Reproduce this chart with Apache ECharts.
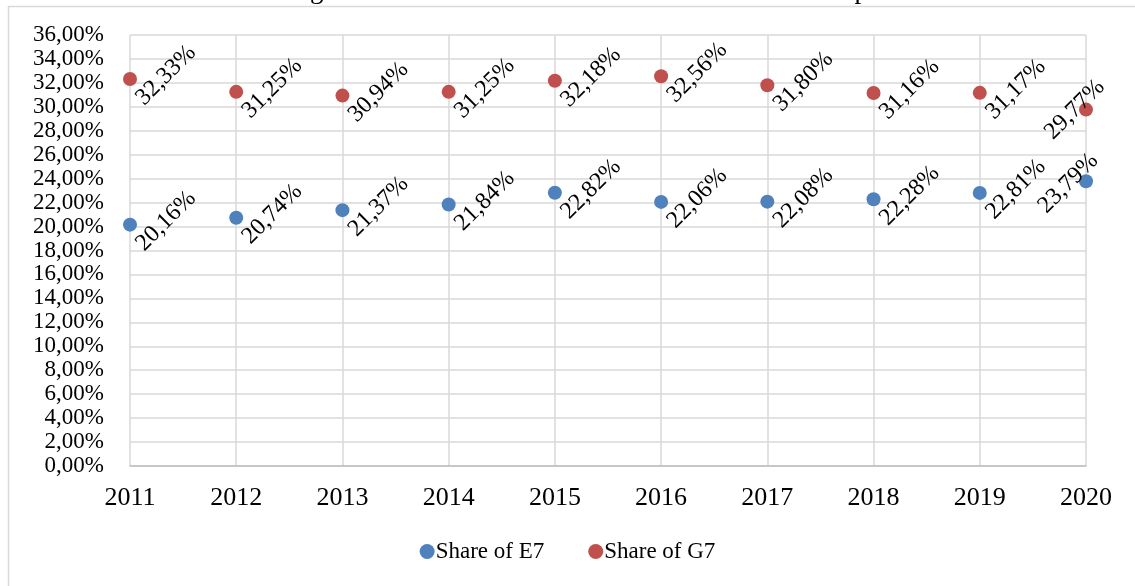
<!DOCTYPE html>
<html>
<head>
<meta charset="utf-8">
<script src="https://cdn.jsdelivr.net/npm/echarts@6/dist/echarts.min.js"></script>
<style>
  html, body { margin: 0; padding: 0; background: #fff; }
  #chart { width: 1135px; height: 586px; }
</style>
</head>
<body>
<div id="chart"></div>
<script>
// Years on the category axis
const years = ['2011', '2012', '2013', '2014', '2015', '2016', '2017', '2018', '2019', '2020'];
// Share in world exports, percent
const shareE7 = [20.16, 20.74, 21.37, 21.84, 22.82, 22.06, 22.08, 22.28, 22.81, 23.79];
const shareG7 = [32.33, 31.25, 30.94, 31.25, 32.18, 32.56, 31.80, 31.16, 31.17, 29.77];
const titleText = 'Figure 4. Share of E7 and G7 Countries in World Exports';

const FONT = '"Liberation Serif", "Times New Roman", serif';
const pct = v => v.toFixed(2).replace('.', ',') + '%';

// Label offsets are given in the label's own (45° turned) frame.
// Ordinary points: label to the right of the dot; the last point leans left.
function points(values, lastOffset) {
  return values.map((v, i) => ({
    value: v,
    label: { offset: i === values.length - 1 ? lastOffset : [28, 23] }
  }));
}

const labelStyle = {
  show: true,
  position: 'inside',
  rotate: 45,
  align: 'center',
  verticalAlign: 'middle',
  fontFamily: FONT,
  fontSize: 24,
  color: '#000',
  formatter: p => pct(p.value)
};

const chart = echarts.init(document.getElementById('chart'), null, { renderer: 'canvas' });
chart.setOption({
  backgroundColor: '#fff',
  animation: false,
  graphic: [
    {
      type: 'rect',
      shape: { x: 8.5, y: 6.5, width: 1140, height: 600 },
      style: { fill: 'none', stroke: '#d9d9d9', lineWidth: 1.5 },
      silent: true
    },
    {
      type: 'text',
      x: 598,
      y: 4,
      style: {
        text: titleText, font: '27px ' + FONT, fill: '#000',
        align: 'center', verticalAlign: 'bottom'
      },
      silent: true
    }
  ],
  grid: { left: 130, right: 49, top: 35, bottom: 120, containLabel: false },
  xAxis: {
    type: 'category',
    data: years,
    boundaryGap: false,
    axisLine: { show: true, lineStyle: { color: '#bfbfbf', width: 1.5 } },
    axisTick: { show: false },
    splitLine: { show: true, lineStyle: { color: '#d9d9d9', width: 1.5 } },
    axisLabel: { fontFamily: FONT, fontSize: 26, color: '#000', margin: 19 }
  },
  yAxis: {
    type: 'value',
    min: 0,
    max: 36,
    interval: 2,
    axisLine: { show: false },
    axisTick: { show: false },
    splitLine: { show: true, lineStyle: { color: '#d9d9d9', width: 1.5 } },
    axisLabel: {
      fontFamily: FONT, fontSize: 23, color: '#000', margin: 26,
      formatter: v => pct(v)
    }
  },
  legend: {
    bottom: 18,
    left: 'center',
    icon: 'circle',
    itemWidth: 15,
    itemHeight: 15,
    itemGap: 44,
    textStyle: { fontFamily: FONT, fontSize: 23, color: '#000', padding: [0, 0, 0, -4] },
    data: ['Share of E7', 'Share of G7']
  },
  series: [
    {
      name: 'Share of E7',
      type: 'scatter',
      symbol: 'circle',
      symbolSize: 14,
      itemStyle: { color: '#4F81BD', opacity: 1 },
      label: labelStyle,
      data: points(shareE7, [-14, -11])
    },
    {
      name: 'Share of G7',
      type: 'scatter',
      symbol: 'circle',
      symbolSize: 14,
      itemStyle: { color: '#C0504D', opacity: 1 },
      label: labelStyle,
      data: points(shareG7, [-8, -8])
    }
  ]
});
</script>
</body>
</html>
